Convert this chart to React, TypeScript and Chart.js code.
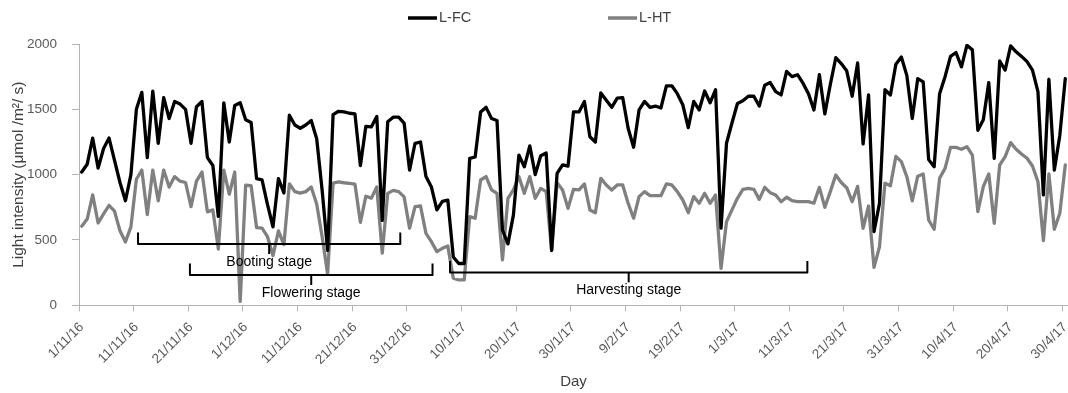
import React, { useEffect, useRef } from 'react';
import { Chart, registerables } from 'chart.js';

Chart.register(...registerables);

// ---------- data ----------
const START_DAY_UTC = Date.UTC(2016, 10, 1); // 1 Nov 2016
const DAY_COUNT = 181; // 1/11/16 .. 30/4/17

const dayLabels: string[] = Array.from({ length: DAY_COUNT }, (_, i) => {
  const d = new Date(START_DAY_UTC + i * 86400000);
  return `${d.getUTCDate()}/${d.getUTCMonth() + 1}/${String(d.getUTCFullYear()).slice(2)}`;
});

const tickLabels = [
  '1/11/16', '11/11/16', '21/11/16', '1/12/16', '11/12/16', '21/12/16', '31/12/16',
  '10/1/17', '20/1/17', '30/1/17', '9/2/17', '19/2/17', '1/3/17', '11/3/17',
  '21/3/17', '31/3/17', '10/4/17', '20/4/17', '30/4/17',
];

const lFC = [
  1020, 1080, 1280, 1050, 1200, 1280, 1110, 940, 800, 1000,
  1500, 1630, 1130, 1640, 1240, 1590, 1430, 1560, 1540, 1500,
  1240, 1520, 1560, 1130, 1070, 680, 1550, 1250, 1530, 1550,
  1420, 1400, 970, 960, 770, 600, 970, 860, 1455, 1380,
  1355, 1380, 1415, 1275, 880, 420, 1460, 1485, 1480, 1470,
  1465, 1070, 1370, 1365, 1445, 650, 1405, 1440, 1440, 1395,
  1035, 1240, 1250, 985, 905, 730, 795, 805, 370, 320,
  320, 1125, 1135, 1480, 1515, 1430, 1415, 575, 470, 690,
  1150, 1060, 1220, 1000, 1145, 1165, 420, 1010, 1075, 1065,
  1480, 1480, 1560, 1290, 1250, 1625, 1570, 1515, 1585, 1590,
  1355, 1210, 1495, 1560, 1515, 1525, 1510, 1680, 1680, 1620,
  1535, 1360, 1560, 1495, 1640, 1550, 1650, 590, 1240, 1395,
  1545, 1565, 1600, 1600, 1525, 1685, 1705, 1635, 1610, 1790,
  1750, 1765, 1700, 1620, 1495, 1765, 1465, 1690, 1895, 1850,
  1795, 1600, 1855, 1235, 1610, 565, 780, 1650, 1610, 1845,
  1900, 1760, 1430, 1735, 1710, 1115, 1060, 1620, 1750, 1905,
  1935, 1825, 1990, 1955, 1340, 1420, 1705, 1125, 1870, 1800,
  1985, 1940, 1905, 1865, 1800, 1635, 845, 1730, 1035, 1300,
  1735,
];

const lHT = [
  605, 660, 845, 630, 700, 765, 720, 570, 485, 600,
  965, 1035, 695, 1035, 800, 1035, 905, 985, 950, 940,
  755, 950, 1020, 715, 730, 430, 1035, 850, 1020, 30,
  920, 915, 595, 590, 525, 380, 570, 465, 930, 870,
  858, 870, 905, 775, 525, 240, 935, 945, 938, 933,
  928, 635, 835, 820, 905, 400, 857, 880, 870, 830,
  590, 755, 760, 550, 487, 411, 436, 454, 207, 194,
  194, 679, 666, 959, 985, 883, 857, 347, 819, 883,
  985, 857, 985, 819, 895, 870, 418, 939, 883, 742,
  888, 883, 929, 730, 709, 972, 921, 883, 921, 921,
  781, 666, 832, 870, 839, 839, 839, 929, 921, 870,
  806, 709, 832, 781, 857, 781, 844, 283, 640, 730,
  819, 888, 895, 888, 811, 903, 862, 844, 793, 827,
  801, 793, 793, 793, 781, 903, 750, 870, 997, 940,
  900, 793, 910, 589, 760, 290, 448, 935, 915, 1140,
  1100, 985, 800, 988, 1005, 653, 582, 972, 1048, 1209,
  1209, 1194, 1214, 1150, 717, 908, 1005, 628, 1074, 1138,
  1245, 1194, 1158, 1125, 1066, 946, 495, 1005, 582, 704,
  1074,
];

// growth-stage brackets (day index, value level)
const stageNames = ['Booting stage', 'Flowering stage', 'Harvesting stage'];
const stageStartDay = [10.3, 19.8, 67.4];
const stageEndDay = [58.3, 64.2, 132.8];
const stageLevel = [469, 232, 252];

// ---------- styling ----------
const FONT = '"Liberation Sans", Arial, Helvetica, sans-serif';
const AXIS_COLOR = '#b3b3b3';
const TICK_COLOR = '#595959';
const TITLE_COLOR = '#404040';
const FC_COLOR = '#000000';
const HT_COLOR = '#808080';

const legendPlugin = {
  id: 'customLegend',
  afterDraw(chart: any) {
    const { ctx } = chart;
    const xs = [408, 608];
    const y = 18;
    ctx.save();
    chart.data.datasets.forEach((ds: any, i: number) => {
      ctx.strokeStyle = ds.borderColor;
      ctx.lineWidth = 3.5;
      ctx.lineCap = 'butt';
      ctx.beginPath();
      ctx.moveTo(xs[i], y);
      ctx.lineTo(xs[i] + 29, y);
      ctx.stroke();
      ctx.fillStyle = TITLE_COLOR;
      ctx.font = `14.5px ${FONT}`;
      ctx.textAlign = 'left';
      ctx.textBaseline = 'middle';
      ctx.fillText(ds.label, xs[i] + 31, y);
    });
    ctx.restore();
  },
};

const stagePlugin = {
  id: 'stageBrackets',
  afterDatasetsDraw(chart: any) {
    const { ctx } = chart;
    const xs = chart.scales.x;
    const ys = chart.scales.y;
    ctx.save();
    ctx.strokeStyle = '#000000';
    ctx.lineWidth = 2;
    ctx.lineJoin = 'round';
    ctx.lineCap = 'butt';
    ctx.fillStyle = '#000000';
    ctx.font = `14px ${FONT}`;
    ctx.textAlign = 'center';
    ctx.textBaseline = 'middle';
    stageNames.forEach((name, i) => {
      const x1 = xs.getPixelForValue(stageStartDay[i]);
      const x2 = xs.getPixelForValue(stageEndDay[i]);
      const xm = xs.getPixelForValue((stageStartDay[i] + stageEndDay[i]) / 2);
      const yl = ys.getPixelForValue(stageLevel[i]);
      ctx.beginPath();
      ctx.moveTo(x1, yl - 11.5);
      ctx.lineTo(x1, yl);
      ctx.lineTo(x2, yl);
      ctx.lineTo(x2, yl - 11.5);
      ctx.stroke();
      ctx.beginPath();
      ctx.moveTo(xm, yl);
      ctx.lineTo(xm, yl + 10);
      ctx.stroke();
      ctx.fillText(name, xm, yl + 18);
    });
    ctx.restore();
  },
};

export default function App() {
  const canvasRef = useRef<HTMLCanvasElement | null>(null);

  useEffect(() => {
    if (!canvasRef.current) return;
    const tenth = (i: number) => i % 10 === 0;
    const chart = new Chart(canvasRef.current, {
      type: 'line',
      data: {
        labels: dayLabels,
        datasets: [
          {
            label: 'L-FC',
            data: lFC,
            borderColor: FC_COLOR,
            backgroundColor: FC_COLOR,
            borderWidth: 3.3,
            pointRadius: 0,
            tension: 0,
            borderJoinStyle: 'round',
            borderCapStyle: 'round',
          },
          {
            label: 'L-HT',
            data: lHT,
            borderColor: HT_COLOR,
            backgroundColor: HT_COLOR,
            borderWidth: 3.3,
            pointRadius: 0,
            tension: 0,
            borderJoinStyle: 'round',
            borderCapStyle: 'round',
          },
        ],
      },
      options: {
        responsive: false,
        animation: false,
        devicePixelRatio: 1,
        layout: { padding: { top: 44, right: 0, bottom: 0, left: 0 } },
        plugins: {
          legend: { display: false },
          tooltip: { enabled: false },
        },
        scales: {
          x: {
            type: 'category',
            offset: true,
            grid: {
              offset: true,
              drawOnChartArea: false,
              drawTicks: true,
              tickLength: 6,
              color: (c: any) => (typeof c.index === 'number' && tenth(c.index) ? AXIS_COLOR : 'rgba(0,0,0,0)'),
              tickColor: (c: any) => (typeof c.index === 'number' && tenth(c.index) ? AXIS_COLOR : 'rgba(0,0,0,0)'),
            },
            border: { display: true, color: AXIS_COLOR, width: 1 },
            ticks: {
              autoSkip: false,
              maxRotation: 45,
              minRotation: 45,
              padding: 8,
              color: TICK_COLOR,
              font: { family: FONT, size: 13.5 },
              callback: (_v: any, i: number) => (tenth(i) ? tickLabels[i / 10] : ''),
            },
            title: {
              display: true,
              text: 'Day',
              color: TITLE_COLOR,
              font: { family: FONT, size: 15 },
              padding: { top: 0, bottom: 2 },
            },
            afterFit: (s: any) => {
              s.height = 87.7;
              s.paddingLeft = 0;
              s.paddingRight = 0;
            },
          },
          y: {
            min: 0,
            max: 2000,
            ticks: {
              stepSize: 500,
              padding: 15,
              color: TICK_COLOR,
              font: { family: FONT, size: 13.5 },
              callback: (v: any) => String(v),
            },
            grid: {
              drawOnChartArea: false,
              drawTicks: true,
              tickLength: 7,
              color: AXIS_COLOR,
            },
            border: { display: true, color: AXIS_COLOR, width: 1 },
            title: {
              display: true,
              text: 'Light intensity (μmol /m²/ s)',
              color: TITLE_COLOR,
              font: { family: FONT, size: 15.5 },
              padding: { top: 9, bottom: 0 },
            },
            afterFit: (s: any) => {
              s.width = 79;
              s.paddingTop = 0;
              s.paddingBottom = 0;
            },
          },
        },
      },
      plugins: [stagePlugin, legendPlugin],
    } as any);
    return () => chart.destroy();
  }, []);

  return (
    <div style={{ position: 'fixed', left: 0, top: 0, width: 1068, height: 393, background: '#ffffff' }}>
      <canvas ref={canvasRef} width={1068} height={393} style={{ display: 'block' }} />
    </div>
  );
}
